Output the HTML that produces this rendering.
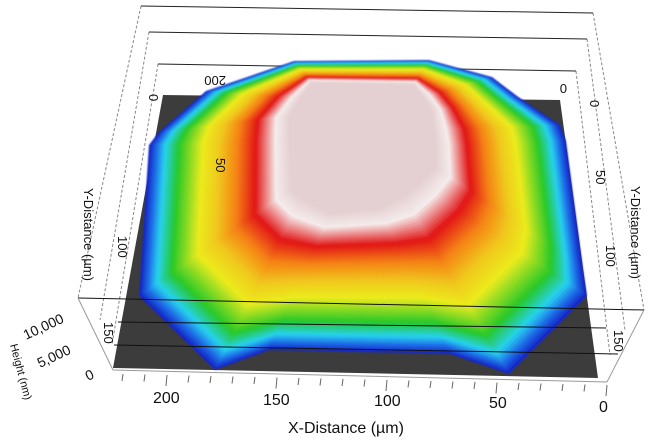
<!DOCTYPE html>
<html><head><meta charset="utf-8"><style>
html,body{margin:0;padding:0;background:#fff;width:650px;height:444px;overflow:hidden}
svg{display:block}
text{font-family:"Liberation Sans",sans-serif;fill:#111}
</style></head><body>
<svg id="s" width="650" height="444" viewBox="0 0 650 444" xmlns="http://www.w3.org/2000/svg">
<defs><filter id="b" x="-10%" y="-10%" width="120%" height="120%"><feGaussianBlur stdDeviation="0.7"/></filter></defs>
<g stroke="#888" stroke-width="1" stroke-dasharray="3,2" fill="none">
<line x1="141" y1="6" x2="78" y2="298"/><line x1="149" y1="32" x2="100" y2="320"/><line x1="158" y1="64" x2="112" y2="345"/>
<line x1="593" y1="13" x2="644" y2="310"/><line x1="587" y1="39" x2="625" y2="330"/><line x1="576" y1="71" x2="610" y2="355"/>
</g>
<g stroke="#222" stroke-width="1">
<line x1="141" y1="6" x2="593" y2="13"/><line x1="149" y1="32" x2="587" y2="39"/><line x1="158" y1="64" x2="576" y2="71"/>
</g>
<polygon points="163,95 560,100 598,378 113,368" fill="#3c3c3c"/>
<g id="blob" filter="url(#b)"></g>
<g stroke="#111" stroke-width="1">
<line x1="78" y1="298" x2="644" y2="310"/><line x1="118" y1="322" x2="606" y2="328"/><line x1="114" y1="345" x2="618" y2="354"/>
</g>
<g stroke="#999"><line x1="113" y1="370" x2="607" y2="382"/><line x1="78" y1="298" x2="113" y2="370"/><line x1="644" y1="310" x2="607" y2="382"/></g>
<g id="ticks" stroke="#666" stroke-width="1"></g>
<g font-size="16">
<text x="153" y="403">200</text><text x="263" y="405">150</text><text x="374" y="406">100</text><text x="489" y="408">50</text><text x="599" y="412">0</text>
<text x="288" y="433" font-size="16">X-Distance (µm)</text>
</g>
<g font-size="13">
<text transform="translate(590,100) rotate(90)">0</text>
<text transform="translate(596,170) rotate(90)">50</text>
<text transform="translate(606,245) rotate(90)">100</text>
<text transform="translate(614,330) rotate(90)">150</text>
<text transform="translate(631,186) rotate(90)" font-size="13">Y-Distance (µm)</text>
<text transform="translate(149,94) rotate(90)">0</text>
<text transform="translate(567,84) rotate(180)">0</text>
<text transform="translate(226,76) rotate(180)">200</text>
<text transform="translate(216,158) rotate(90)">50</text>
<text transform="translate(118,236) rotate(90)">100</text>
<text transform="translate(84,188) rotate(90)" font-size="13">Y-Distance (µm)</text>
<text transform="translate(104,322) rotate(90)">150</text>
<text transform="translate(26,340) rotate(-25)" font-size="14">10,000</text>
<text transform="translate(40,368) rotate(-25)" font-size="14">5,000</text>
<text transform="translate(88,381) rotate(-25)" font-size="14">0</text>
<text transform="translate(10,345) rotate(75)" font-size="11">Height (nm)</text>
</g>
</svg>
<script>
var O=[[294,61],[429,60],[492,77],[517,96],[560,125],[566,141],[583,269],[587,296],[509,374],[450,354],[269,350],[215,370],[139,296],[149,145],[158,133],[206,91]];
var I=[[311,82],[414,84],[424,97],[433,111],[435,130],[437,145],[437,168],[420,185],[404,198],[380,210],[330,215],[300,200],[290,190],[288,140],[288,116],[300,98]];
var stops=[[0,[20,40,200]],[0.05,[30,110,230]],[0.11,[40,210,240]],[0.21,[40,200,40]],[0.38,[235,235,30]],[0.5,[240,200,30]],[0.63,[245,130,20]],[0.76,[225,20,20]],[0.9,[245,235,235]],[1,[228,208,210]]];
function col(t){for(var i=1;i<stops.length;i++){if(t<=stops[i][0]){var a=stops[i-1],b=stops[i],f=(t-a[0])/(b[0]-a[0]);return 'rgb('+a[1].map(function(v,k){return Math.round(v+(b[1][k]-v)*f)}).join(',')+')';}}return 'rgb(228,208,210)';}
var g=document.getElementById('blob'),h='',N=60;
for(var n=0;n<=N;n++){var t=n/N;var p=O.map(function(o,k){return (o[0]+(I[k][0]-o[0])*t).toFixed(1)+','+(o[1]+(I[k][1]-o[1])*t).toFixed(1)}).join(' ');h+='<polygon points="'+p+'" fill="'+col(t)+'"/>';}
g.innerHTML=h;
var tk='';for(var i=0;i<=22;i++){var x=607-i*22;var y=382-i*0.5;tk+='<line x1="'+x.toFixed(1)+'" y1="'+(y+3)+'" x2="'+(x-1).toFixed(1)+'" y2="'+(y+(i%5==0?14:10))+'"/>';}
document.getElementById('ticks').innerHTML=tk;
</script>
</body></html>
